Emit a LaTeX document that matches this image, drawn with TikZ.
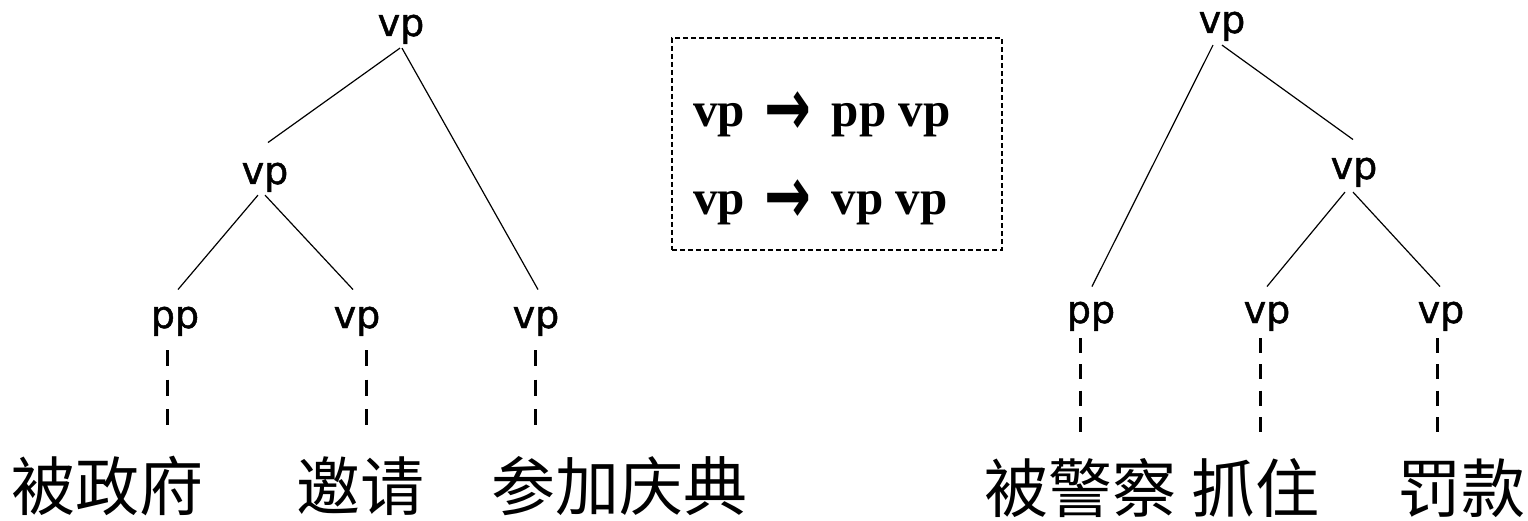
\documentclass[tikz,border=0pt]{standalone}
\usepackage{fontspec}
\usepackage{graphicx}
\usetikzlibrary{calc}
\setmainfont{Liberation Serif}
\newfontfamily\labfont[FakeBold=1.2]{DejaVu Sans}
\newfontfamily\symfont{DejaVu Sans}
\newfontfamily\cjk{Noto Sans CJK SC}
\newcommand{\rulearrow}{\raisebox{-9pt}{\scalebox{1.0}[1.45]{\symfont\bfseries\fontsize{56}{56}\selectfont →}}}
\begin{document}
\begin{tikzpicture}[x=1pt,y=-1pt,
  lab/.style={font=\labfont\fontsize{38}{38}\selectfont, inner sep=0pt, anchor=base},
  word/.style={font=\cjk\fontsize{64}{64}\selectfont, inner sep=0pt},
  branch/.style={line width=1.2pt, black},
  leafL/.style={line width=3pt, dash pattern=on 16pt off 13.5pt},
  leafR/.style={line width=3pt, dash pattern=on 15pt off 11.3pt},
  rulebox/.style={draw, line width=1.3pt, dash pattern=on 5pt off 3pt, minimum width=330pt, minimum height=212pt, inner sep=0pt},
  ruletext/.style={font=\bfseries\fontsize{49}{49}\selectfont, inner sep=0pt, anchor=base west}]
\useasboundingbox (0,0) rectangle (1528,521);

% ---- left tree ----
\node[lab] (L0)  at (401,36)  {vp};
\node[lab] (L1)  at (265,184) {vp};
\node[lab] (L2a) at (175,328) {pp};
\node[lab] (L2b) at (357,328) {vp};
\node[lab] (L2c) at (536,328) {vp};

\draw[branch] ($(L0.south)+(-1,4)$) -- ($(L1.north)+(3,-20)$);
\draw[branch] ($(L0.south)+(1,4)$)  -- ($(L2c.north)+(2,-17)$);
\draw[branch] ($(L1.south)+(-7,3)$) -- ($(L2a.north)+(3,-17)$);
\draw[branch] ($(L1.south)+(0,3)$)  -- ($(L2b.north)+(-4,-17)$);

\node[word] (W1) at (107,486) {被政府};
\node[word] (W2) at (360,486) {邀请};
\node[word] (W3) at (619,486) {参加庆典};

\draw[leafL] ($(L2a.south)+(-8,14)$) -- ($(L2a.south)+(-8,89)$);
\draw[leafL] ($(L2b.south)+(9,14)$)  -- ($(L2b.south)+(9,89)$);
\draw[leafL] ($(L2c.south)+(-1,14)$) -- ($(L2c.south)+(-1,89)$);

% ---- rules box ----
\node[rulebox] (box) at (837,144) {};
\node[ruletext] (r1) at (693,127) {vp\hspace{20pt}\rulearrow\hspace{20pt}pp vp};
\node[ruletext] (r2) at (693,215) {vp\hspace{20pt}\rulearrow\hspace{20pt}vp vp};

% ---- right tree ----
\node[lab] (R0)  at (1222,33)  {vp};
\node[lab] (R1)  at (1354,179) {vp};
\node[lab] (R2a) at (1091,323) {pp};
\node[lab] (R2b) at (1267,323) {vp};
\node[lab] (R2c) at (1441,323) {vp};

\draw[branch] ($(R0.south)+(-9,4)$) -- ($(R2a.north)+(1,-15)$);
\draw[branch] ($(R0.south)+(0,4)$)  -- ($(R1.north)+(-1,-18)$);
\draw[branch] ($(R1.south)+(-9,5)$) -- ($(R2b.north)+(0,-15)$);
\draw[branch] ($(R1.south)+(-1,5)$) -- ($(R2c.north)+(-1,-15)$);

\node[word] (V1) at (1080,488) {被警察};
\node[word] (V2) at (1255,488) {抓住};
\node[word] (V3) at (1461,488) {罚款};

\draw[leafR] ($(R2a.south)+(-11,7)$) -- ($(R2a.south)+(-11,101)$);
\draw[leafR] ($(R2b.south)+(-7,7)$)  -- ($(R2b.south)+(-7,101)$);
\draw[leafR] ($(R2c.south)+(-4,7)$)  -- ($(R2c.south)+(-4,101)$);
\end{tikzpicture}
\end{document}
